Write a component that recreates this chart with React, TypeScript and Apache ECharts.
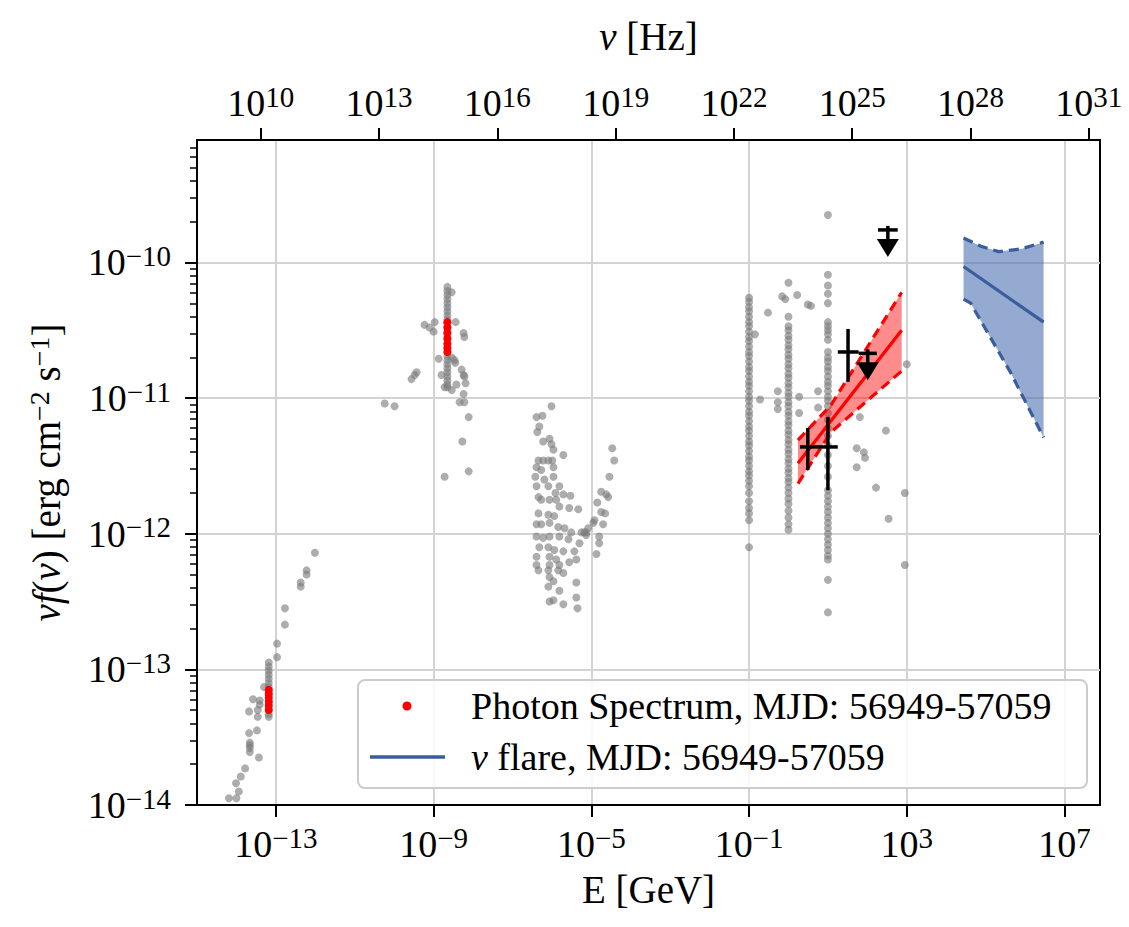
import React, { useEffect, useRef } from 'react';
import * as echarts from 'echarts';

// ---------- constants ----------
const FONT = "'Liberation Serif', 'Times New Roman', serif";
const LOG_HZ_PER_GEV = 23.3835; // log10(1 / h), h in GeV s

// ---------- axes (log10 exponents) ----------
const eRange = [-15, 7.9];
const fRange = [-14, -9.097];
const eTickExps = [-13, -9, -5, -1, 3, 7];
const nuTickExps = [10, 13, 16, 19, 22, 25, 28, 31];
const fTickExps = [-14, -13, -12, -11, -10];
const fMinorMantissas = [2, 3, 4, 5, 6, 7, 8, 9];

// ---------- archival data: [log10(E/GeV), log10(nuF / erg cm^-2 s^-1)] ----------
const radioArchival: number[][] = [
  [-14.19, -13.95], [-14.0, -13.95], [-13.94, -13.9], [-14.01, -13.84], [-13.89, -13.79],
  [-13.78, -13.73], [-13.66, -13.54], [-13.66, -13.56], [-13.66, -13.58], [-13.66, -13.61],
  [-13.43, -13.65], [-13.68, -13.47], [-13.48, -13.45], [-13.68, -13.31], [-13.46, -13.35],
  [-13.46, -13.3], [-13.58, -13.22], [-13.41, -13.23], [-13.41, -13.26], [-13.3, -13.13],
  [-13.18, -12.95], [-13.18, -12.98], [-13.18, -13.01], [-13.18, -13.04], [-13.18, -13.07],
  [-13.18, -13.1], [-13.18, -13.13], [-13.18, -13.16], [-13.18, -13.19], [-13.18, -13.23],
  [-13.18, -13.26], [-13.18, -13.3], [-13.18, -13.33], [-13.18, -13.35],
  [-12.97, -12.91], [-12.97, -12.81], [-12.77, -12.67], [-12.77, -12.55], [-12.37, -12.39],
  [-12.37, -12.36], [-12.22, -12.27], [-12.22, -12.3], [-12.01, -12.14],
];

const opticalArchival: number[][] = [
  [-8.65, -10.18], [-8.65, -10.21], [-8.65, -10.24], [-8.65, -10.27], [-8.65, -10.3],
  [-8.65, -10.33], [-8.65, -10.36], [-8.65, -10.39], [-8.65, -10.42], [-8.65, -10.45],
  [-8.65, -10.48], [-8.65, -10.51], [-8.65, -10.54], [-8.65, -10.57], [-8.65, -10.6],
  [-8.65, -10.63], [-8.65, -10.66], [-8.65, -10.69], [-8.65, -10.72], [-8.65, -10.75],
  [-8.65, -10.78], [-8.65, -10.81], [-8.65, -10.84], [-8.65, -10.87], [-8.65, -10.9],
  [-8.65, -10.92],
  [-9.23, -10.46], [-9.1, -10.48], [-9.0, -10.51], [-8.97, -10.44], [-8.44, -10.44],
  [-8.54, -10.22], [-8.24, -10.52], [-8.22, -10.55], [-8.87, -10.71], [-8.47, -10.72],
  [-8.54, -10.7], [-8.45, -10.74],
  [-8.29, -10.79], [-8.24, -10.83], [-8.22, -10.84], [-8.19, -10.89], [-8.8, -10.83],
  [-8.72, -10.92], [-8.54, -10.94], [-8.42, -10.9], [-8.24, -10.97], [-8.34, -11.03],
  [-8.22, -11.03], [-8.11, -11.14], [-8.27, -11.32], [-8.11, -11.54], [-8.72, -11.58],
  [-9.56, -10.86], [-9.48, -10.83], [-9.43, -10.81], [-10.24, -11.04], [-9.99, -11.06],
];

const xrayArchival: number[][] = [
  [-6.01, -11.06], [-6.39, -11.14], [-6.24, -11.13], [-6.32, -11.21], [-6.37, -11.25],
  [-6.22, -11.32], [-6.06, -11.3], [-6.01, -11.34], [-5.96, -11.38], [-5.71, -11.42],
  [-6.34, -11.46], [-6.22, -11.46], [-6.09, -11.46], [-5.99, -11.46], [-6.39, -11.51],
  [-6.27, -11.53], [-5.96, -11.51], [-6.42, -11.58], [-6.19, -11.6], [-5.96, -11.58],
  [-6.39, -11.65], [-6.09, -11.65], [-5.81, -11.65], [-5.91, -11.7], [-5.71, -11.71],
  [-5.53, -11.72], [-6.34, -11.73], [-6.27, -11.75], [-6.06, -11.75], [-5.89, -11.75],
  [-5.81, -11.8], [-5.56, -11.81], [-5.33, -11.82], [-6.34, -11.85], [-6.09, -11.86],
  [-5.94, -11.87], [-6.39, -11.93], [-6.27, -11.93], [-6.06, -11.92], [-5.84, -11.95],
  [-5.68, -11.96], [-5.51, -11.99], [-5.25, -11.99], [-5.13, -11.99], [-6.39, -12.02],
  [-6.22, -12.03], [-6.06, -12.02], [-5.81, -12.02], [-5.58, -12.04], [-5.3, -12.07],
  [-6.32, -12.1], [-6.09, -12.1], [-5.94, -12.12], [-5.71, -12.13], [-5.43, -12.13],
  [-6.39, -12.17], [-6.06, -12.17], [-5.89, -12.19], [-5.38, -12.19], [-6.06, -12.23],
  [-5.81, -12.23], [-5.56, -12.21], [-6.39, -12.23], [-6.34, -12.27], [-6.09, -12.27],
  [-5.84, -12.27], [-6.06, -12.32], [-5.71, -12.29], [-5.96, -12.35], [-5.38, -12.36],
  [-6.09, -12.39], [-5.81, -12.42], [-6.06, -12.5], [-5.96, -12.49], [-5.71, -12.52],
  [-5.38, -12.47], [-5.35, -12.55],
  [-4.47, -11.37], [-4.42, -11.46], [-4.54, -11.58], [-4.75, -11.69], [-4.62, -11.71],
  [-4.57, -11.73], [-4.85, -11.77], [-4.75, -11.84], [-4.65, -11.85], [-4.92, -11.9],
  [-4.95, -11.92], [-5.08, -11.96], [-5.18, -11.99], [-5.13, -12.01], [-4.7, -11.93],
  [-4.8, -12.02], [-4.8, -12.07], [-4.87, -12.15],
];

const gammaArchival: number[][] = [
  // column at 0.1 GeV
  [-1.0, -10.26], [-1.0, -10.29], [-1.0, -10.33], [-1.0, -10.36], [-1.0, -10.4], [-1.0, -10.44],
  [-1.0, -10.47], [-1.0, -10.51], [-1.0, -10.55], [-1.0, -10.58], [-1.0, -10.62], [-1.0, -10.66],
  [-1.0, -10.69], [-1.0, -10.73], [-1.0, -10.77], [-1.0, -10.8], [-1.0, -10.84], [-1.0, -10.88],
  [-1.0, -10.91], [-1.0, -10.95], [-1.0, -10.99], [-1.0, -11.02], [-1.0, -11.06], [-1.0, -11.1],
  [-1.0, -11.13], [-1.0, -11.17], [-1.0, -11.21], [-1.0, -11.24], [-1.0, -11.28], [-1.0, -11.32],
  [-1.0, -11.35], [-1.0, -11.39], [-1.0, -11.43], [-1.0, -11.46], [-1.0, -11.5], [-1.0, -11.54],
  [-1.0, -11.57], [-1.0, -11.61], [-1.0, -11.65], [-1.0, -11.7], [-1.0, -11.76], [-1.0, -11.81],
  [-1.0, -11.85], [-1.0, -11.9], [-1.0, -12.1],
  [-0.52, -10.37], [-0.85, -10.53], [-0.72, -11.01],
  // column at 1 GeV
  [0.0, -10.15], [-0.16, -10.25], [-0.08, -10.27], [0.22, -10.24], [0.49, -10.31], [0.0, -10.4],
  [0.0, -10.47], [0.0, -10.5], [0.0, -10.54], [0.0, -10.57], [0.0, -10.61], [0.0, -10.64],
  [0.0, -10.68], [0.0, -10.71], [0.0, -10.75], [0.0, -10.78], [0.0, -10.82], [0.0, -10.85],
  [0.0, -10.89], [0.0, -10.92], [0.0, -10.96], [0.0, -10.99], [0.0, -11.03], [0.0, -11.06],
  [0.0, -11.1], [0.0, -11.13], [0.0, -11.17], [0.0, -11.2], [0.0, -11.24], [0.0, -11.27],
  [0.0, -11.31], [0.0, -11.34], [0.0, -11.38], [0.0, -11.41], [0.0, -11.45], [0.0, -11.48],
  [0.0, -11.52], [0.0, -11.55], [0.0, -11.59], [0.0, -11.62], [0.0, -11.66], [0.0, -11.7],
  [0.0, -11.74], [0.0, -11.78], [0.0, -11.83], [0.0, -11.88], [0.0, -11.93], [0.0, -11.97],
  [-0.27, -10.95], [-0.27, -11.03], [-0.27, -11.08], [0.27, -10.99], [0.27, -11.11],
  // column at 10 GeV
  [1.0, -9.65], [1.0, -10.09], [1.0, -10.17], [1.0, -10.23], [1.0, -10.3], [1.0, -10.44],
  [1.0, -10.47], [1.0, -10.5], [1.0, -10.53], [1.0, -10.57], [1.0, -10.66], [1.0, -10.7],
  [1.0, -10.73], [1.0, -10.77], [1.0, -10.8], [1.0, -10.84], [1.0, -10.88], [1.0, -10.91],
  [1.0, -10.95], [1.0, -10.99], [1.0, -11.02], [1.0, -11.06], [1.0, -11.11], [1.0, -11.16],
  [1.0, -11.22], [1.0, -11.28], [1.0, -11.35], [1.0, -11.42], [1.0, -11.5], [1.0, -11.58],
  [1.0, -11.68], [1.0, -11.72], [1.0, -11.76], [1.0, -11.8], [1.0, -11.84], [1.0, -11.88],
  [1.0, -11.92], [1.0, -11.96], [1.0, -12.0], [1.0, -12.04], [1.0, -12.08], [1.0, -12.12],
  [1.0, -12.16], [1.0, -12.19], [1.0, -12.34], [1.0, -12.58],
  [0.57, -10.32], [0.75, -10.95], [0.75, -11.07], [1.81, -11.14], [2.47, -11.24], [1.73, -11.37],
  [1.91, -11.4], [1.94, -11.44], [1.73, -11.51], [2.22, -11.66], [2.95, -11.7], [2.54, -11.89],
  [2.95, -12.23], [3.0, -10.75],
];

// ---------- photon spectrum, MJD 56949-57059 ----------
const photonPoints: number[][] = [
  [-13.18, -13.15], [-13.18, -13.18], [-13.18, -13.21], [-13.18, -13.24], [-13.18, -13.27], [-13.18, -13.3],
  [-8.65, -10.44], [-8.65, -10.48], [-8.65, -10.52], [-8.65, -10.56], [-8.65, -10.6], [-8.65, -10.63], [-8.65, -10.66],
];
const photonBandUpper: number[][] = [[0.24, -11.31], [1.08, -11.05], [2.87, -10.22]];
const photonBandCenter: number[][] = [[0.24, -11.48], [2.87, -10.5]];
const photonBandLower: number[][] = [[0.24, -11.63], [1.08, -11.25], [2.87, -10.8]];
// [logE, logF, logE_lo, logE_hi, logF_lo, logF_hi]
const photonErrorPoints: number[][] = [
  [0.49, -11.36, 0.29, 0.75, -11.53, -11.22],
  [1.0, -11.36, 0.75, 1.25, -11.68, -11.14],
  [1.51, -10.66, 1.25, 1.78, -10.88, -10.49],
];
// [logE, logF_UL, logE_lo, logE_hi]
const photonUpperLimits: number[][] = [
  [2.01, -10.67, 1.78, 2.24],
  [2.52, -9.76, 2.27, 2.77],
];

// ---------- neutrino flare, MJD 56949-57059 ----------
const nuBandUpper: number[][] = [[4.44, -9.82], [4.88, -9.88], [5.33, -9.92], [5.9, -9.9], [6.47, -9.85]];
const nuBandCenter: number[][] = [[4.44, -10.03], [6.47, -10.44]];
const nuBandLower: number[][] = [[4.44, -10.27], [4.62, -10.3], [5.63, -10.81], [6.47, -11.29]];

// ---------- styling ----------
const GREY = '#7a7a7a';
const RED = '#ff0000';
const BLUE_LINE = '#3a5d9c';
const BLUE_FILL = 'rgba(76,114,176,0.6)';
const RED_FILL = 'rgba(255,0,0,0.45)';
const GRID_COLOR = '#d3d3d3';

const supText = (n: number) => (n < 0 ? '\u2212' + Math.abs(n) : String(n));
const powLabel = (v: number) => `10{s|${supText(Math.round(v))}}`;

const tickRich = {
  s: { fontSize: 29, fontFamily: FONT, color: '#000', verticalAlign: 'top', lineHeight: 27 },
};

const fMinorTicks: number[] = [];
for (let n = fTickExps[0]; n <= fTickExps[fTickExps.length - 1]; n++) {
  for (const m of fMinorMantissas) {
    const v = n + Math.log10(m);
    if (v < fRange[1]) fMinorTicks.push(v);
  }
}

const bandPolygon = (upper: number[][], lower: number[][]) => [...upper, ...lower.slice().reverse()];

function bandSeries(name: string, upper: number[][], lower: number[][], fill: string) {
  const poly = bandPolygon(upper, lower);
  return {
    name,
    type: 'custom',
    silent: true,
    z: 3,
    clip: true,
    data: poly,
    renderItem: (params: any, api: any) => {
      if (params.dataIndex !== 0) return null;
      const pts = poly.map((p) => api.coord(p));
      return { type: 'polygon', shape: { points: pts }, style: { fill, stroke: 'none' } };
    },
  };
}

function lineSeries(data: number[][], color: string, dashed: boolean) {
  return {
    type: 'line',
    data,
    z: 4,
    silent: true,
    showSymbol: false,
    symbol: 'none',
    lineStyle: { color, width: 3.2, type: dashed ? [10, 6] : 'solid' },
  };
}

const axisLineStyle = { color: '#000', width: 2 };

const option: any = {
  animation: false,
  backgroundColor: '#ffffff',
  grid: { left: 197, right: 29, top: 140, bottom: 122, show: true, borderColor: '#000', borderWidth: 2, backgroundColor: 'transparent' },
  xAxis: [
    {
      type: 'value',
      position: 'bottom',
      min: eRange[0],
      max: eRange[1],
      name: 'E [GeV]',
      nameLocation: 'middle',
      nameGap: 50,
      nameTextStyle: { fontFamily: FONT, fontSize: 39, color: '#000' },
      axisLine: { show: true, onZero: false, lineStyle: axisLineStyle },
      axisTick: { show: true, length: 12, lineStyle: axisLineStyle, customValues: eTickExps },
      axisLabel: {
        customValues: eTickExps,
        formatter: powLabel,
        fontFamily: FONT,
        fontSize: 38,
        lineHeight: 42,
        color: '#000',
        margin: 18,
        rich: tickRich,
      },
      splitLine: { show: true, lineStyle: { color: GRID_COLOR, width: 2 } },
    },
    {
      type: 'value',
      position: 'top',
      min: eRange[0] + LOG_HZ_PER_GEV,
      max: eRange[1] + LOG_HZ_PER_GEV,
      name: '{i|\u03bd} [Hz]',
      nameLocation: 'middle',
      nameGap: 84,
      nameTextStyle: {
        fontFamily: FONT,
        fontSize: 39,
        color: '#000',
        rich: { i: { fontStyle: 'italic', fontFamily: FONT, fontSize: 39, color: '#000' } },
      },
      axisLine: { show: true, onZero: false, lineStyle: axisLineStyle },
      axisTick: { show: true, length: 12, lineStyle: axisLineStyle, customValues: nuTickExps },
      axisLabel: {
        customValues: nuTickExps,
        formatter: powLabel,
        fontFamily: FONT,
        fontSize: 38,
        lineHeight: 42,
        color: '#000',
        margin: 16,
        rich: tickRich,
      },
      splitLine: { show: false },
    },
  ],
  yAxis: [
    {
      type: 'value',
      position: 'left',
      min: fRange[0],
      max: fRange[1],
      name: '{i|\u03bdf}({i|\u03bd}) [erg cm{s|\u22122} s{s|\u22121}]',
      nameLocation: 'middle',
      nameRotate: 90,
      nameGap: 130,
      nameTextStyle: {
        fontFamily: FONT,
        fontSize: 39,
        color: '#000',
        lineHeight: 42,
        rich: {
          i: { fontStyle: 'italic', fontFamily: FONT, fontSize: 39, color: '#000', lineHeight: 42 },
          s: { fontSize: 28, fontFamily: FONT, color: '#000', verticalAlign: 'top', lineHeight: 27 },
        },
      },
      axisLine: { show: true, onZero: false, lineStyle: axisLineStyle },
      axisTick: { show: true, length: 12, lineStyle: axisLineStyle, customValues: fTickExps },
      axisLabel: {
        customValues: fTickExps,
        formatter: powLabel,
        fontFamily: FONT,
        fontSize: 38,
        lineHeight: 42,
        color: '#000',
        margin: 26,
        rich: tickRich,
      },
      splitLine: { show: true, lineStyle: { color: GRID_COLOR, width: 2 } },
    },
    {
      type: 'value',
      position: 'left',
      min: fRange[0],
      max: fRange[1],
      axisLine: { show: false, onZero: false },
      axisTick: { show: true, length: 7, lineStyle: { color: '#000', width: 1.5 }, customValues: fMinorTicks },
      axisLabel: { show: false },
      splitLine: { show: false },
    },
  ],
  series: [
    {
      name: 'Archival',
      type: 'scatter',
      z: 2,
      symbolSize: 8,
      itemStyle: { color: GREY, opacity: 0.62 },
      data: [...radioArchival, ...opticalArchival, ...xrayArchival, ...gammaArchival],
      silent: true,
    },
    {
      name: 'Photon Spectrum, MJD: 56949-57059',
      type: 'scatter',
      z: 3,
      symbolSize: 8,
      itemStyle: { color: RED, opacity: 1 },
      data: photonPoints,
      silent: true,
    },
    bandSeries('Photon band', photonBandUpper, photonBandLower, RED_FILL),
    lineSeries(photonBandUpper, RED, true),
    lineSeries(photonBandLower, RED, true),
    lineSeries(photonBandCenter, RED, false),
    bandSeries('nu band', nuBandUpper, nuBandLower, BLUE_FILL),
    lineSeries(nuBandUpper, BLUE_LINE, true),
    lineSeries(nuBandLower, BLUE_LINE, true),
    lineSeries(nuBandCenter, BLUE_LINE, false),
    {
      name: 'Photon errors',
      type: 'custom',
      z: 5,
      silent: true,
      data: photonErrorPoints,
      renderItem: (params: any, api: any) => {
        const x = api.value(0), y = api.value(1);
        const pl = api.coord([api.value(2), y]);
        const pr = api.coord([api.value(3), y]);
        const pb = api.coord([x, api.value(4)]);
        const pt = api.coord([x, api.value(5)]);
        const st = { stroke: '#000', lineWidth: 3.5 };
        return {
          type: 'group',
          children: [
            { type: 'line', shape: { x1: pl[0], y1: pl[1], x2: pr[0], y2: pr[1] }, style: st },
            { type: 'line', shape: { x1: pb[0], y1: pb[1], x2: pt[0], y2: pt[1] }, style: st },
          ],
        };
      },
    },
    {
      name: 'Photon upper limits',
      type: 'custom',
      z: 5,
      silent: true,
      data: photonUpperLimits,
      renderItem: (params: any, api: any) => {
        const x = api.value(0), y = api.value(1);
        const pl = api.coord([api.value(2), y]);
        const pr = api.coord([api.value(3), y]);
        const pc = api.coord([x, y]);
        const st = { stroke: '#000', lineWidth: 3.5 };
        return {
          type: 'group',
          children: [
            { type: 'line', shape: { x1: pl[0], y1: pl[1], x2: pr[0], y2: pr[1] }, style: st },
            { type: 'line', shape: { x1: pc[0], y1: pc[1] - 4, x2: pc[0], y2: pc[1] + 10 }, style: st },
            {
              type: 'polygon',
              shape: { points: [[pc[0] - 11, pc[1] + 9], [pc[0] + 11, pc[1] + 9], [pc[0], pc[1] + 27]] },
              style: { fill: '#000' },
            },
          ],
        };
      },
    },
  ],
  graphic: [
    {
      type: 'rect',
      z: 100,
      shape: { x: 358, y: 680, width: 729, height: 108, r: 7 },
      style: { fill: 'rgba(255,255,255,0.85)', stroke: '#cccccc', lineWidth: 2 },
    },
    { type: 'circle', z: 101, shape: { cx: 407, cy: 706, r: 4.5 }, style: { fill: RED } },
    {
      type: 'line',
      z: 101,
      shape: { x1: 370, y1: 757, x2: 445, y2: 757 },
      style: { stroke: BLUE_LINE, lineWidth: 3.5 },
    },
    {
      type: 'text',
      z: 101,
      x: 471,
      y: 706,
      style: {
        text: 'Photon Spectrum, MJD: 56949-57059',
        fontFamily: FONT,
        fontSize: 38,
        fill: '#000',
        verticalAlign: 'middle',
        align: 'left',
      },
    },
    {
      type: 'text',
      z: 101,
      x: 471,
      y: 757,
      style: {
        text: '{i|\u03bd} flare, MJD: 56949-57059',
        fontFamily: FONT,
        fontSize: 38,
        fill: '#000',
        verticalAlign: 'middle',
        align: 'left',
        rich: { i: { fontStyle: 'italic', fontFamily: FONT, fontSize: 38, fill: '#000' } },
      },
    },
  ],
};

export default function App() {
  const ref = useRef<HTMLDivElement>(null);
  useEffect(() => {
    if (!ref.current) return;
    const chart = echarts.init(ref.current, null, { renderer: 'svg' });
    chart.setOption(option);
    return () => chart.dispose();
  }, []);
  return (
    <div
      ref={ref}
      style={{ position: 'fixed', left: 0, top: 0, width: 1129, height: 927, background: '#ffffff' }}
    />
  );
}
